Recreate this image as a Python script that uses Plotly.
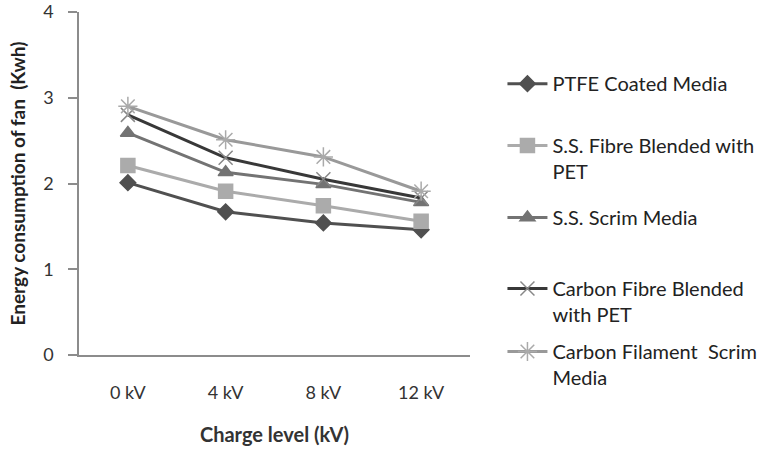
import plotly.graph_objects as go

categories = ["0 kV", "4 kV", "8 kV", "12 kV"]
series_names = [
    "PTFE Coated Media",
    "S.S. Fibre Blended with<br>PET",
    "S.S. Scrim Media",
    "Carbon Fibre Blended<br>with PET",
    "Carbon Filament  Scrim<br>Media",
]
ptfe = [2.01, 1.67, 1.54, 1.46]
ss_fibre = [2.21, 1.91, 1.74, 1.56]
ss_scrim = [2.59, 2.13, 1.99, 1.78]
carbon_fibre = [2.80, 2.30, 2.05, 1.83]
carbon_filament = [2.90, 2.51, 2.31, 1.91]
values = [ptfe, ss_fibre, ss_scrim, carbon_fibre, carbon_filament]

line_colors = ["#505050", "#ababab", "#737373", "#383838", "#999999"]
marker_colors = ["#505050", "#ababab", "#737373", "#888888", "#aaaaaa"]
symbols = ["diamond", "square", "triangle-up", "x-thin-open", "asterisk-open"]
marker_sizes = [12, 14, 13, 14, 16]
legend_ids = ["legend", "legend2", "legend3", "legend4", "legend5"]
legend_y = [0.848, 0.668, 0.458, 0.251, 0.067]

FONT = "Lato"

fig = go.Figure()
for name, vals, lc, mc, sym, ms, lid in zip(series_names, values, line_colors,
                                            marker_colors, symbols, marker_sizes, legend_ids):
    fig.add_trace(go.Scatter(
        x=categories, y=vals, name=name, mode="lines+markers",
        line=dict(color=lc, width=3),
        marker=dict(symbol=sym, size=ms, color=mc,
                    line=dict(color=mc, width=1.5)),
        legend=lid,
    ))

layout_legends = {}
for lid, ly in zip(legend_ids, legend_y):
    layout_legends[lid] = dict(
        x=1.083, y=ly, xanchor="left", yanchor="top",
        font=dict(family=FONT, size=20, color="#222222"),
        bgcolor="rgba(0,0,0,0)", valign="top",
        itemwidth=40,
    )

fig.update_layout(
    width=763, height=450,
    margin=dict(l=79, r=293, t=12, b=95, autoexpand=False),
    paper_bgcolor="white", plot_bgcolor="white",
    font=dict(family=FONT, color="#333333"),
    showlegend=True,
    xaxis=dict(
        type="category", range=[-0.5, 3.5], automargin=False,
        showline=True, linecolor="#8c8c8c", linewidth=1.5,
        showgrid=False, ticks="", zeroline=False,
        tickfont=dict(family=FONT, size=18, color="#333333"),
        ticklabelstandoff=21,
        title=dict(text="<b>Charge level (kV)</b>",
                   font=dict(family=FONT, size=20, color="#333333"),
                   standoff=26),
    ),
    yaxis=dict(
        range=[0, 4], dtick=1, automargin=False,
        showline=True, linecolor="#8c8c8c", linewidth=1.5,
        showgrid=False, zeroline=False,
        ticks="outside", ticklen=9, tickcolor="#8c8c8c", tickwidth=1.5,
        tickfont=dict(family=FONT, size=18, color="#333333"),
        ticklabelstandoff=11,
        title=dict(text="<b>Energy consumption of fan  (Kwh)</b>",
                   font=dict(family=FONT, size=19, color="#222222"),
                   standoff=13),
    ),
    **layout_legends,
)

fig.write_html("out.html")
